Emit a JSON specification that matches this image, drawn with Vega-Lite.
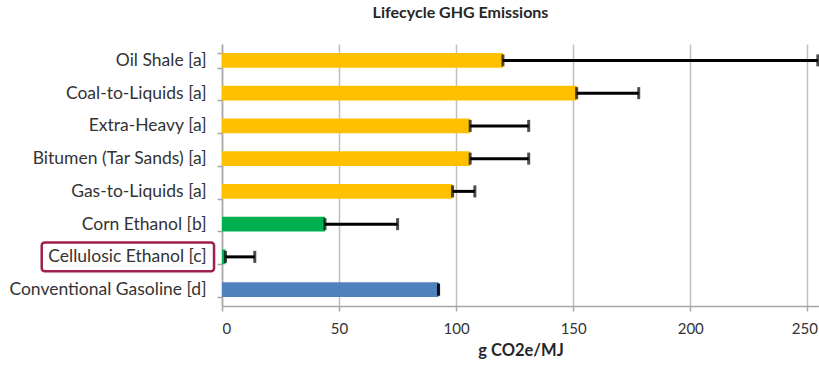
{
  "$schema": "https://vega.github.io/schema/vega-lite/v6.json",
  "autosize": "none",
  "padding": {"left": 222, "top": 44, "right": 0, "bottom": 61},
  "width": 597,
  "height": 262,
  "background": "white",
  "title": {
    "text": "Lifecycle GHG Emissions",
    "font": "Lato",
    "fontSize": 16,
    "fontWeight": "bold",
    "color": "#262626",
    "anchor": "middle",
    "dx": -60,
    "offset": 14
  },
  "config": {
    "view": {"stroke": null},
    "font": "Lato"
  },
  "data": {
    "values": [
      {"fuel": "Oil Shale [a]", "value": 120, "upper": 254.5, "type": "Fossil alternative"},
      {"fuel": "Coal-to-Liquids [a]", "value": 151.5, "upper": 178, "type": "Fossil alternative"},
      {"fuel": "Extra-Heavy  [a]", "value": 106, "upper": 131, "type": "Fossil alternative"},
      {"fuel": "Bitumen (Tar Sands) [a]", "value": 106, "upper": 131, "type": "Fossil alternative"},
      {"fuel": "Gas-to-Liquids [a]", "value": 98.5, "upper": 108, "type": "Fossil alternative"},
      {"fuel": "Corn Ethanol [b]", "value": 44, "upper": 75, "type": "Biofuel"},
      {"fuel": "Cellulosic Ethanol [c]", "value": 1.5, "upper": 14, "type": "Biofuel"},
      {"fuel": "Conventional Gasoline [d]", "value": 92.5, "upper": 92.5, "type": "Conventional"}
    ]
  },
  "encoding": {
    "y": {
      "field": "fuel",
      "type": "nominal",
      "sort": null,
      "title": null,
      "scale": {"paddingInner": 0.55, "paddingOuter": 0.275},
      "axis": {
        "domainColor": "#A6A6A6",
        "domainWidth": 1.5,
        "tickColor": "#A6A6A6",
        "tickWidth": 1.5,
        "tickSize": 5,
        "tickBand": "extent",
        "labelFont": "Lato",
        "labelFontSize": 17.5,
        "labelColor": "#333333",
        "labelPadding": 11,
        "labelLimit": 250
      }
    }
  },
  "layer": [
    {
      "mark": {"type": "bar"},
      "encoding": {
        "x": {
          "field": "value",
          "type": "quantitative",
          "title": "g CO2e/MJ",
          "scale": {"domain": [0, 255], "nice": false},
          "axis": {
            "values": [0, 50, 100, 150, 200, 250],
            "grid": true,
            "gridColor": "#BFBFBF",
            "gridWidth": 1.5,
            "domainColor": "#A6A6A6",
            "domainWidth": 1.5,
            "tickColor": "#A6A6A6",
            "tickWidth": 1.5,
            "tickSize": 5,
            "labelFont": "Lato",
            "labelFontSize": 15,
            "labelColor": "#333333",
            "labelPadding": 10,
            "labelOffset": {"condition": {"test": "datum.value === 250", "value": -3}, "value": 0},
            "titleFont": "Lato",
            "titleFontSize": 16.5,
            "titleFontWeight": "bold",
            "titleColor": "#262626",
            "titlePadding": 6
          }
        },
        "color": {
          "field": "type",
          "type": "nominal",
          "legend": null,
          "scale": {
            "domain": ["Fossil alternative", "Biofuel", "Conventional"],
            "range": ["#FFC000", "#00B050", "#4F81BD"]
          }
        }
      }
    },
    {
      "mark": {"type": "rule", "color": "black", "strokeWidth": 3},
      "encoding": {
        "x": {"field": "value", "type": "quantitative"},
        "x2": {"field": "upper"}
      }
    },
    {
      "mark": {"type": "tick", "color": "black", "thickness": 3, "size": 12},
      "encoding": {"x": {"field": "value", "type": "quantitative"}}
    },
    {
      "mark": {"type": "tick", "color": "black", "thickness": 3, "size": 12},
      "encoding": {"x": {"field": "upper", "type": "quantitative"}}
    },
    {
      "transform": [{"filter": "datum.fuel === 'Cellulosic Ethanol [c]'"}],
      "mark": {"type": "rect", "fill": null, "stroke": "#9E1F50", "strokeWidth": 2.5, "cornerRadius": 3, "clip": false, "height": {"band": 1.95}},
      "encoding": {
        "x": {"datum": -77},
        "x2": {"datum": -3.4}
      }
    }
  ]
}
